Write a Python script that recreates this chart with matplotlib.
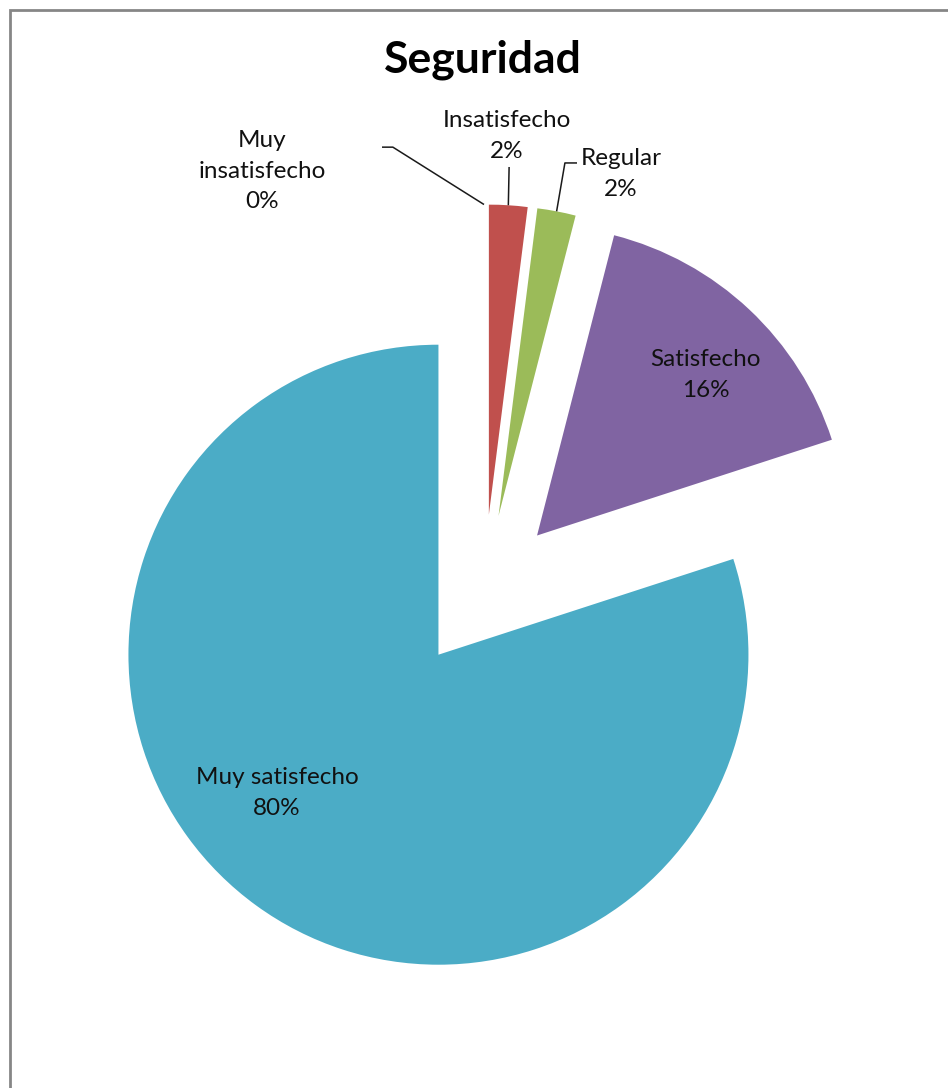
import numpy as np
import matplotlib.pyplot as plt
from matplotlib.patches import Rectangle

TITLE = "Seguridad"
CATEGORIES = ["Muy insatisfecho", "Insatisfecho", "Regular", "Satisfecho", "Muy satisfecho"]
LABEL_NAMES = ["Muy\ninsatisfecho", "Insatisfecho", "Regular", "Satisfecho", "Muy satisfecho"]
PERCENTS = [0, 2, 2, 16, 80]
COLORS = ["#C0504D", "#C0504D", "#9BBB59", "#8064A2", "#4BACC6"]

EXPLODE = 0.25
FONT = "Lato"

# label centres in pie units (radius = 1), relative to the un-exploded centre
LABEL_POS = [(-0.716, 1.358), (0.074, 1.471), (0.442, 1.348), (0.716, 0.700), (-0.668, -0.648)]
# leader lines: points after the wedge edge (None = label sits inside the slice)
LEADERS = [
    [(-0.294, 1.435), (-0.329, 1.435)],
    [(0.081, 1.371)],
    [(0.261, 1.384), (0.300, 1.384)],
    None,
    None,
]

W, H = 948, 1088
CX, CY, R = 484, 592, 310  # pie centre / radius in pixels

fig = plt.figure(figsize=(W / 100, H / 100), dpi=100)
ax = fig.add_axes([0, 0, 1, 1])

wedges, _ = ax.pie(
    PERCENTS,
    colors=COLORS,
    explode=[EXPLODE] * len(PERCENTS),
    startangle=90,
    counterclock=False,
    radius=1.0,
    wedgeprops={"linewidth": 0},
    frame=True,
)
ax.set_xlim(-CX / R, (W - CX) / R)
ax.set_ylim((CY - H) / R, CY / R)
ax.set_aspect("auto")
ax.axis("off")

for w, name, pct, pos, leader in zip(wedges, LABEL_NAMES, PERCENTS, LABEL_POS, LEADERS):
    ax.text(pos[0], pos[1], f"{name}\n{pct}%", ha="center", va="center",
            fontsize=17.5, family=FONT, color="#111111", linespacing=1.55)
    if leader is None:
        continue
    mid = np.deg2rad((w.theta1 + w.theta2) / 2)
    start = ((1 + EXPLODE) * np.cos(mid), (1 + EXPLODE) * np.sin(mid))
    xs = [start[0]] + [p[0] for p in leader]
    ys = [start[1]] + [p[1] for p in leader]
    ax.plot(xs, ys, color="#1a1a1a", lw=1.1, solid_capstyle="butt")

fig.text(483 / W, 1 - 60 / H, TITLE, ha="center", va="center",
         fontsize=32, fontweight="bold", family=FONT, color="black")

fig.patches.append(Rectangle((9.5 / W, -0.1), 1.2, (H - 10) / H + 0.1,
                             transform=fig.transFigure, fill=False,
                             edgecolor="#868686", lw=2))

fig.savefig("out.png", dpi=100)
